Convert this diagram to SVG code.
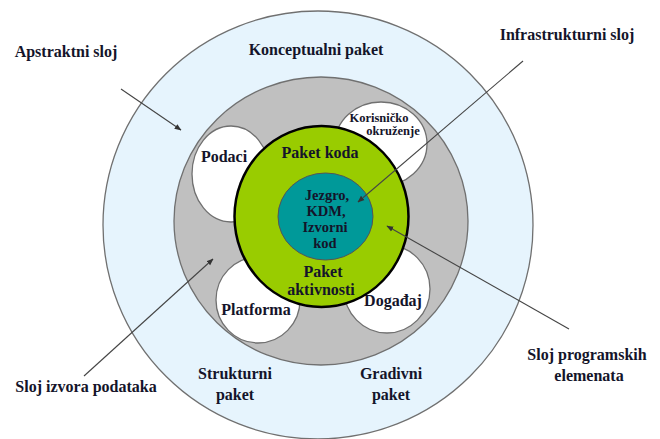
<svg xmlns="http://www.w3.org/2000/svg" width="660" height="439" viewBox="0 0 660 439">
<defs>
<marker id="ah" viewBox="0 0 10 10" refX="9" refY="5" markerWidth="7" markerHeight="7" markerUnits="userSpaceOnUse" orient="auto">
<path d="M0,1 L10,5 L0,9 z" fill="#333"/>
</marker>
<style>
.lbl{font-size:16px}
.core{font-size:14.5px}
.sm{font-size:12.5px}
.ring{stroke:#707070;stroke-width:1.3}
.conn{stroke:#444;stroke-width:1.1;fill:none;marker-end:url(#ah)}
</style>
</defs>
<rect width="660" height="439" fill="#ffffff"/>
<g font-family="'Liberation Serif', 'DejaVu Serif', serif" font-weight="bold" fill="#14142a" text-anchor="middle">
<g id="konceptualni-paket">
<ellipse class="ring" cx="318" cy="225" rx="215" ry="214" fill="#e6f4fd"/>
<text class="lbl" x="316" y="55">Konceptualni paket</text>
<text class="lbl" x="235" y="379">Strukturni</text>
<text class="lbl" x="235" y="400">paket</text>
<text class="lbl" x="391" y="379">Gradivni</text>
<text class="lbl" x="391" y="400">paket</text>
</g>
<g id="sloj-izvora">
<ellipse class="ring" cx="321" cy="221" rx="147" ry="144" fill="#c0c0c0"/>
</g>
<g id="podaci">
<ellipse class="ring" cx="231" cy="174" rx="39" ry="48" fill="#ffffff"/>
<text class="lbl" x="224" y="162">Podaci</text>
</g>
<g id="korisnicko-okruzenje">
<ellipse class="ring" cx="381" cy="144" rx="46" ry="42" fill="#ffffff"/>
<text class="sm" x="379" y="122">Korisničko</text>
<text class="sm" x="393" y="135">okruženje</text>
</g>
<g id="platforma">
<ellipse class="ring" cx="258" cy="300" rx="42" ry="43" fill="#ffffff"/>
<text class="lbl" x="256" y="315">Platforma</text>
</g>
<g id="dogadjaj">
<ellipse class="ring" cx="387" cy="289" rx="43" ry="44" fill="#ffffff"/>
<text class="lbl" x="393" y="306">Događaj</text>
</g>
<g id="paket-koda">
<ellipse cx="321.5" cy="216.5" rx="87" ry="90.5" fill="#99cc00" stroke="#000" stroke-width="2.5"/>
<text class="lbl" x="320" y="158">Paket koda</text>
<text class="lbl" x="323" y="277">Paket</text>
<text class="lbl" x="321" y="295">aktivnosti</text>
</g>
<g id="jezgro">
<ellipse cx="325.5" cy="216.5" rx="47.5" ry="43.5" fill="#009999" stroke="#555" stroke-width="1"/>
<text class="core" x="327" y="200">Jezgro,</text>
<text class="core" x="326" y="216">KDM,</text>
<text class="core" x="325" y="232">Izvorni</text>
<text class="core" x="325" y="248">kod</text>
</g>
<g id="labels">
<text class="lbl" x="66" y="57">Apstraktni sloj</text>
<text class="lbl" x="567" y="40">Infrastrukturni sloj</text>
<text class="lbl" x="86" y="392">Sloj izvora podataka</text>
<text class="lbl" x="587" y="360">Sloj programskih</text>
<text class="lbl" x="589" y="381">elemenata</text>
</g>
</g>
<g id="connectors">
<line class="conn" x1="121" y1="89" x2="181" y2="130"/>
<line class="conn" x1="523" y1="61" x2="358" y2="202"/>
<line class="conn" x1="84" y1="376" x2="213" y2="259"/>
<line class="conn" x1="569" y1="329" x2="387" y2="226"/>
</g>
</svg>
